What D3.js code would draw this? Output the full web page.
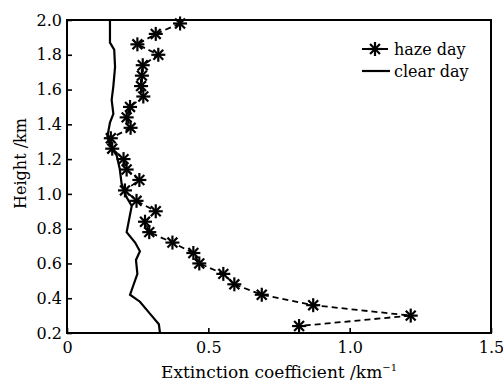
<!DOCTYPE html>
<html>
<head>
<meta charset="utf-8">
<script src="https://cdn.jsdelivr.net/npm/d3@7"></script>
<style>
  body { margin: 0; background: #fff; }
  text { font-family: "DejaVu Serif", serif; fill: #000; }
</style>
</head>
<body>
<svg id="chart" width="503" height="381"></svg>
<script>
// haze day profile (km^-1 vs km)
const hazeHeight = [1.98, 1.92, 1.86, 1.80, 1.74, 1.68, 1.62, 1.56, 1.50, 1.44,
                    1.38, 1.32, 1.26, 1.20, 1.14, 1.08, 1.02, 0.96, 0.90, 0.84,
                    0.78, 0.72, 0.66, 0.60, 0.54, 0.48, 0.42, 0.36, 0.30, 0.24];
const hazeValue  = [0.40, 0.314, 0.249, 0.323, 0.268, 0.265, 0.262, 0.27, 0.223, 0.211,
                    0.225, 0.155, 0.16, 0.20, 0.211, 0.256, 0.205, 0.246, 0.314, 0.276,
                    0.291, 0.373, 0.447, 0.468, 0.553, 0.592, 0.689, 0.871, 1.216, 0.821];

// clear day profile
const clearHeight = [2.00, 1.94, 1.87, 1.83, 1.73, 1.62, 1.54, 1.46, 1.41, 1.33,
                     1.28, 1.22, 1.14, 1.06, 0.98, 0.93, 0.78, 0.72, 0.67, 0.62,
                     0.54, 0.42, 0.38, 0.31, 0.25, 0.20];
const clearValue  = [0.152, 0.152, 0.152, 0.167, 0.170, 0.164, 0.158, 0.164, 0.152, 0.143,
                     0.152, 0.176, 0.187, 0.193, 0.211, 0.229, 0.211, 0.241, 0.258, 0.244,
                     0.249, 0.223, 0.258, 0.294, 0.325, 0.329];

const xTicks = [0, 0.5, 1.0, 1.5];
const yTicks = [0.2, 0.4, 0.6, 0.8, 1.0, 1.2, 1.4, 1.6, 1.8, 2.0];

const margin = {left: 67, right: 12, top: 20, bottom: 48};
const width = 503, height = 381;

const svg = d3.select("#chart");

const x = d3.scaleLinear().domain([0, 1.5]).range([margin.left, width - margin.right]);
const y = d3.scaleLinear().domain([0.2, 2.0]).range([height - margin.bottom, margin.top]);

// axes, ticks pointing inward
const xAxis = d3.axisBottom(x).tickValues(xTicks).tickSizeInner(-5).tickSizeOuter(0)
  .tickPadding(9).tickFormat((d) => d === 0 ? "0" : d3.format(".1f")(d));
const yAxis = d3.axisLeft(y).tickValues(yTicks).tickSizeInner(-5).tickSizeOuter(0)
  .tickPadding(5).tickFormat(d3.format(".1f"));

const gx = svg.append("g")
  .attr("transform", `translate(0,${height - margin.bottom})`)
  .call(xAxis);
const gy = svg.append("g")
  .attr("transform", `translate(${margin.left},0)`)
  .call(yAxis);

[gx, gy].forEach((g) => {
  g.select(".domain").remove();
  g.selectAll(".tick line").attr("stroke", "#000").attr("stroke-width", 1.6);
  g.selectAll(".tick text").attr("font-size", "16px").attr("font-family", "DejaVu Serif");
});
gx.selectAll(".tick text").attr("dy", "0.71em");
gy.selectAll(".tick text").attr("dy", "0.32em");

// frame
svg.append("rect")
  .attr("x", margin.left).attr("y", margin.top)
  .attr("width", width - margin.left - margin.right)
  .attr("height", height - margin.top - margin.bottom)
  .attr("fill", "none").attr("stroke", "#000").attr("stroke-width", 2);

const hazeData = hazeHeight.map((h, i) => ({h: h, v: hazeValue[i]}));
const clearData = clearHeight.map((h, i) => ({h: h, v: clearValue[i]}));

const line = d3.line().x((d) => x(d.v)).y((d) => y(d.h));

svg.append("path")
  .datum(clearData)
  .attr("d", line)
  .attr("fill", "none").attr("stroke", "#000").attr("stroke-width", 2.2);

svg.append("path")
  .datum(hazeData)
  .attr("d", line)
  .attr("fill", "none").attr("stroke", "#000").attr("stroke-width", 1.8)
  .attr("stroke-dasharray", "6,4");

// asterisk marker
function star(g, cx, cy, r) {
  const s = g.append("g").attr("transform", `translate(${cx},${cy})`);
  for (let k = 0; k < 4; k++) {
    const a = k * Math.PI / 4;
    s.append("line")
      .attr("x1", -r * Math.cos(a)).attr("y1", -r * Math.sin(a))
      .attr("x2", r * Math.cos(a)).attr("y2", r * Math.sin(a))
      .attr("stroke", "#000").attr("stroke-width", 2.2);
  }
}

const markers = svg.append("g");
hazeData.forEach((d) => star(markers, x(d.v), y(d.h), 7));

// axis titles
svg.append("text")
  .attr("x", x(0.75)).attr("y", 378)
  .attr("text-anchor", "middle").attr("font-size", "17px")
  .text("Extinction coefficient /km")
  .append("tspan").attr("dy", "-7").attr("font-size", "10px").text("−1");

svg.append("text")
  .attr("transform", `translate(26,${(margin.top + height - margin.bottom) / 2 - 13}) rotate(-90)`)
  .attr("text-anchor", "middle").attr("font-size", "16px")
  .text("Height /km");

// legend
const legend = svg.append("g");
legend.append("line")
  .attr("x1", 362).attr("x2", 390).attr("y1", 49).attr("y2", 49)
  .attr("stroke", "#000").attr("stroke-width", 1.8).attr("stroke-dasharray", "6,4");
star(legend, 375, 49, 7);
legend.append("text").attr("x", 394).attr("y", 55).attr("font-size", "16px").text("haze day");
legend.append("line")
  .attr("x1", 362).attr("x2", 390).attr("y1", 71).attr("y2", 71)
  .attr("stroke", "#000").attr("stroke-width", 2.2);
legend.append("text").attr("x", 394).attr("y", 77).attr("font-size", "16px").text("clear day");
</script>
</body>
</html>
